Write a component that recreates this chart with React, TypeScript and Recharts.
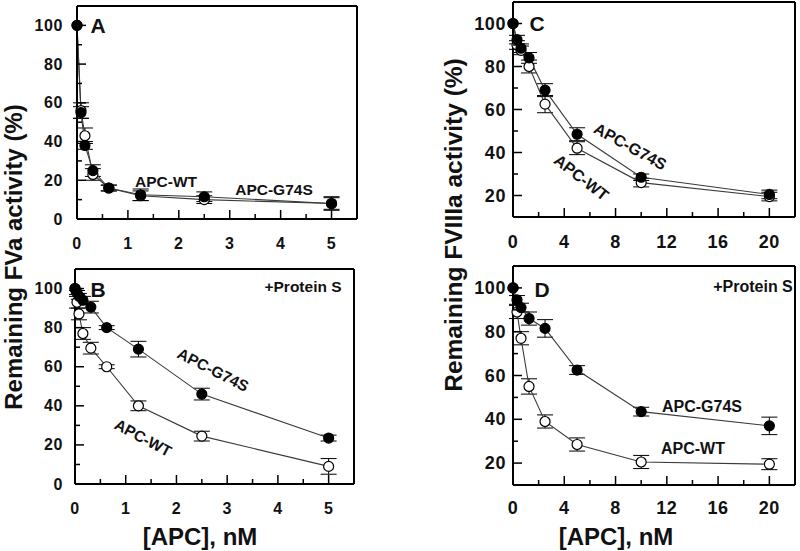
import type { ReactNode } from "react";
import { ComposedChart, Line, XAxis, YAxis, ErrorBar, CartesianGrid } from "recharts";

// APC titrations, panels A/B (FVa) and C/D (FVIIIa)
const FVA_DOSES = [0, 0.078, 0.156, 0.3125, 0.625, 1.25, 2.5, 5];
const A_WT = [100, 56, 43, 23, 16, 12, 10, 8];
const A_WT_ERR = [0, 4, 4, 3, 1.5, 2.5, 2, 3];
const A_G74S = [100, 55, 38, 25, 16, 12.5, 11.5, 8];
const A_G74S_ERR = [0, 3, 2, 3, 1.5, 3, 2.5, 3.5];

const FVA_PS_DOSES = [0, 0.039, 0.078, 0.156, 0.3125, 0.625, 1.25, 2.5, 5];
const B_WT = [100, 93, 87, 77, 69.5, 60, 40, 24.5, 9];
const B_WT_ERR = [0, 3, 3, 3, 3, 1, 2.5, 2.5, 4];
const B_G74S = [100, 98, 96, 94, 90.5, 80, 69, 46, 23.5];
const B_G74S_ERR = [0, 1, 1.5, 2, 3, 1, 4, 3, 1.5];

const FVIIIA_DOSES = [0, 0.3125, 0.625, 1.25, 2.5, 5, 10, 20];
const C_WT = [100, 90, 87.5, 80, 62.5, 42, 26, 19.5];
const C_WT_ERR = [0, 2, 2, 3, 4, 3, 2, 2];
const C_G74S = [100, 92.5, 88.5, 84, 69, 48.5, 28.5, 20.5];
const C_G74S_ERR = [0, 2, 2, 2.5, 3, 3, 1.5, 2];

const D_WT = [100, 89, 77, 55, 39, 28.5, 20.5, 19.5];
const D_WT_ERR = [0, 3, 3, 3.5, 3, 3, 3, 2.5];
const D_G74S = [100, 94.5, 91, 86, 81.5, 62.5, 43.5, 37];
const D_G74S_ERR = [0, 2, 2, 3, 4, 2, 2, 4];

const X_TICKS_FVA = [0, 0.5, 1, 1.5, 2, 2.5, 3, 3.5, 4, 4.5, 5];
const X_TICKS_FVIIIA = [0, 2, 4, 6, 8, 10, 12, 14, 16, 18, 20];
const Y_TICKS_FVA = [0, 10, 20, 30, 40, 50, 60, 70, 80, 90, 100];
const Y_TICKS_FVIIIA = [10, 20, 30, 40, 50, 60, 70, 80, 90, 100];

const FONT = "'Liberation Sans', Arial, Helvetica, sans-serif";
const INK = "#111";
const FRAME = { stroke: "#000", strokeWidth: 2 };

const toRows = (xs: number[], ys: number[], errs: number[]) =>
  xs.map((x, i) => ({ x, y: ys[i], err: errs[i] }));

const isMultiple = (v: number, step: number) => Math.abs(v / step - Math.round(v / step)) < 1e-6;

// inward tick marks, labels only on major ticks
function YTick(props: any) {
  const { x, y, payload, gap, fs } = props;
  const v = payload.value;
  const major = isMultiple(v, 20);
  return (
    <g>
      <line x1={x} x2={x + (major ? 9 : 5)} y1={y} y2={y} stroke="#000" strokeWidth={1.5} />
      {major ? (
        <text
          x={x - gap}
          y={y}
          textAnchor="end"
          dominantBaseline="central"
          fontFamily={FONT}
          fontWeight="bold"
          fontSize={fs}
          letterSpacing={0.6}
          fill={INK}
        >
          {v}
        </text>
      ) : null}
    </g>
  );
}

function XTick(props: any) {
  const { x, y, payload, step, gap, fs } = props;
  const v = payload.value;
  const major = isMultiple(v, step);
  return (
    <g>
      <line x1={x} x2={x} y1={y} y2={y - (major ? 9 : 5)} stroke="#000" strokeWidth={1.5} />
      {major ? (
        <text
          x={x}
          y={y + gap}
          textAnchor="middle"
          dominantBaseline="central"
          fontFamily={FONT}
          fontWeight="bold"
          fontSize={fs}
          letterSpacing={0.6}
          fill={INK}
        >
          {v}
        </text>
      ) : null}
    </g>
  );
}

interface PanelProps {
  left: number;
  top: number;
  width: number;
  height: number;
  marginTop: number;
  marginRight: number;
  yWidth: number;
  xHeight: number;
  xMax: number;
  yMin: number;
  xTicks: number[];
  yTicks: number[];
  xStep: number;
  yGap: number;
  xGap: number;
  fs: number;
  wt: { x: number; y: number; err: number }[];
  g74s: { x: number; y: number; err: number }[];
}

function Panel(p: PanelProps) {
  return (
    <div style={{ position: "absolute", left: p.left, top: p.top }}>
      <ComposedChart
        width={p.width}
        height={p.height}
        data={p.g74s}
        margin={{ top: p.marginTop, right: p.marginRight, left: 0, bottom: 0 }}
      >
        <CartesianGrid horizontal={false} vertical={false} />
        <XAxis
          type="number"
          dataKey="x"
          domain={[0, p.xMax]}
          ticks={p.xTicks}
          interval={0}
          axisLine={FRAME}
          stroke="#000"
          tickSize={0}
          tickMargin={0}
          height={p.xHeight}
          tick={<XTick step={p.xStep} gap={p.xGap} fs={p.fs} />}
        />
        <XAxis
          xAxisId="top"
          orientation="top"
          type="number"
          dataKey="x"
          domain={[0, p.xMax]}
          axisLine={FRAME}
          stroke="#000"
          tick={false}
          tickLine={false}
          height={1}
        />
        <YAxis
          type="number"
          domain={[p.yMin, 110]}
          ticks={p.yTicks}
          interval={0}
          axisLine={FRAME}
          stroke="#000"
          tickSize={0}
          tickMargin={0}
          width={p.yWidth}
          tick={<YTick gap={p.yGap} fs={p.fs} />}
        />
        <YAxis
          yAxisId="right"
          orientation="right"
          type="number"
          domain={[p.yMin, 110]}
          axisLine={FRAME}
          stroke="#000"
          tick={false}
          tickLine={false}
          width={1}
        />
        <Line
          data={p.wt}
          dataKey="y"
          stroke="#3a3a3a"
          strokeWidth={1.1}
          dot={{ r: 5, fill: "#fff", stroke: "#000", strokeWidth: 1.2 }}
          isAnimationActive={false}
        >
          <ErrorBar dataKey="err" direction="y" width={8} stroke="#000" strokeWidth={1} />
        </Line>
        <Line
          data={p.g74s}
          dataKey="y"
          stroke="#3a3a3a"
          strokeWidth={1.1}
          dot={{ r: 5, fill: "#000", stroke: "#000", strokeWidth: 1.2 }}
          isAnimationActive={false}
        >
          <ErrorBar dataKey="err" direction="y" width={8} stroke="#000" strokeWidth={1} />
        </Line>
      </ComposedChart>
    </div>
  );
}

// plain HTML text, centred on (x, y)
function Note({ x, y, size, rotate = 0, children }: { x: number; y: number; size: number; rotate?: number; children: ReactNode }) {
  return (
    <div
      style={{
        position: "absolute",
        left: x,
        top: y,
        transform: `translate(-50%, -50%) rotate(${rotate}deg)`,
        fontFamily: FONT,
        fontWeight: "bold",
        fontSize: size,
        lineHeight: 1,
        whiteSpace: "nowrap",
        color: INK,
        pointerEvents: "none",
      }}
    >
      {children}
    </div>
  );
}

export default function App() {
  return (
    <div style={{ position: "absolute", left: 0, top: 0, width: 800, height: 551, background: "#fff" }}>
      <Panel
        left={0} top={0} width={400} height={262} marginTop={5} marginRight={42}
        yWidth={77} xHeight={43} xMax={5.5} yMin={0}
        xTicks={X_TICKS_FVA} yTicks={Y_TICKS_FVA} xStep={1} yGap={14} xGap={24} fs={16}
        wt={toRows(FVA_DOSES, A_WT, A_WT_ERR)} g74s={toRows(FVA_DOSES, A_G74S, A_G74S_ERR)}
      />
      <Panel
        left={0} top={262} width={400} height={289} marginTop={6} marginRight={45}
        yWidth={75} xHeight={67} xMax={5.5} yMin={0}
        xTicks={X_TICKS_FVA} yTicks={Y_TICKS_FVA} xStep={1} yGap={12} xGap={24} fs={16}
        wt={toRows(FVA_PS_DOSES, B_WT, B_WT_ERR)} g74s={toRows(FVA_PS_DOSES, B_G74S, B_G74S_ERR)}
      />
      <Panel
        left={400} top={0} width={400} height={262} marginTop={1} marginRight={4}
        yWidth={113} xHeight={45} xMax={22} yMin={10}
        xTicks={X_TICKS_FVIIIA} yTicks={Y_TICKS_FVIIIA} xStep={4} yGap={7} xGap={25} fs={18}
        wt={toRows(FVIIIA_DOSES, C_WT, C_WT_ERR)} g74s={toRows(FVIIIA_DOSES, C_G74S, C_G74S_ERR)}
      />
      <Panel
        left={400} top={262} width={400} height={289} marginTop={3} marginRight={4}
        yWidth={113} xHeight={66} xMax={22} yMin={10}
        xTicks={X_TICKS_FVIIIA} yTicks={Y_TICKS_FVIIIA} xStep={4} yGap={7} xGap={23} fs={18}
        wt={toRows(FVIIIA_DOSES, D_WT, D_WT_ERR)} g74s={toRows(FVIIIA_DOSES, D_G74S, D_G74S_ERR)}
      />

      {/* axis titles */}
      <Note x={13.5} y={257} size={24} rotate={-90}>Remaining FVa activity (%)</Note>
      <Note x={453.5} y={225} size={24.5} rotate={-90}>Remaining FVIIIa activity (%)</Note>
      <Note x={200} y={537} size={24}>[APC], nM</Note>
      <Note x={616} y={537} size={24}>[APC], nM</Note>

      {/* panel letters */}
      <Note x={98} y={25} size={21}>A</Note>
      <Note x={98} y={289} size={21}>B</Note>
      <Note x={537} y={23} size={21}>C</Note>
      <Note x={542} y={289} size={21}>D</Note>

      {/* series annotations */}
      <Note x={166} y={182} size={15.5}>APC-WT</Note>
      <Note x={274} y={190} size={15.5}>APC-G74S</Note>

      <Note x={303} y={287} size={15.5}>+Protein S</Note>
      <Note x={213} y={370} size={15.5} rotate={27}>APC-G74S</Note>
      <Note x={143} y={438} size={15.5} rotate={28}>APC-WT</Note>

      <Note x={630} y={147} size={16} rotate={29}>APC-G74S</Note>
      <Note x={581} y={178} size={16} rotate={38}>APC-WT</Note>

      <Note x={753} y={287} size={16}>+Protein S</Note>
      <Note x={702} y={407} size={16}>APC-G74S</Note>
      <Note x={693} y={449} size={16}>APC-WT</Note>
    </div>
  );
}
